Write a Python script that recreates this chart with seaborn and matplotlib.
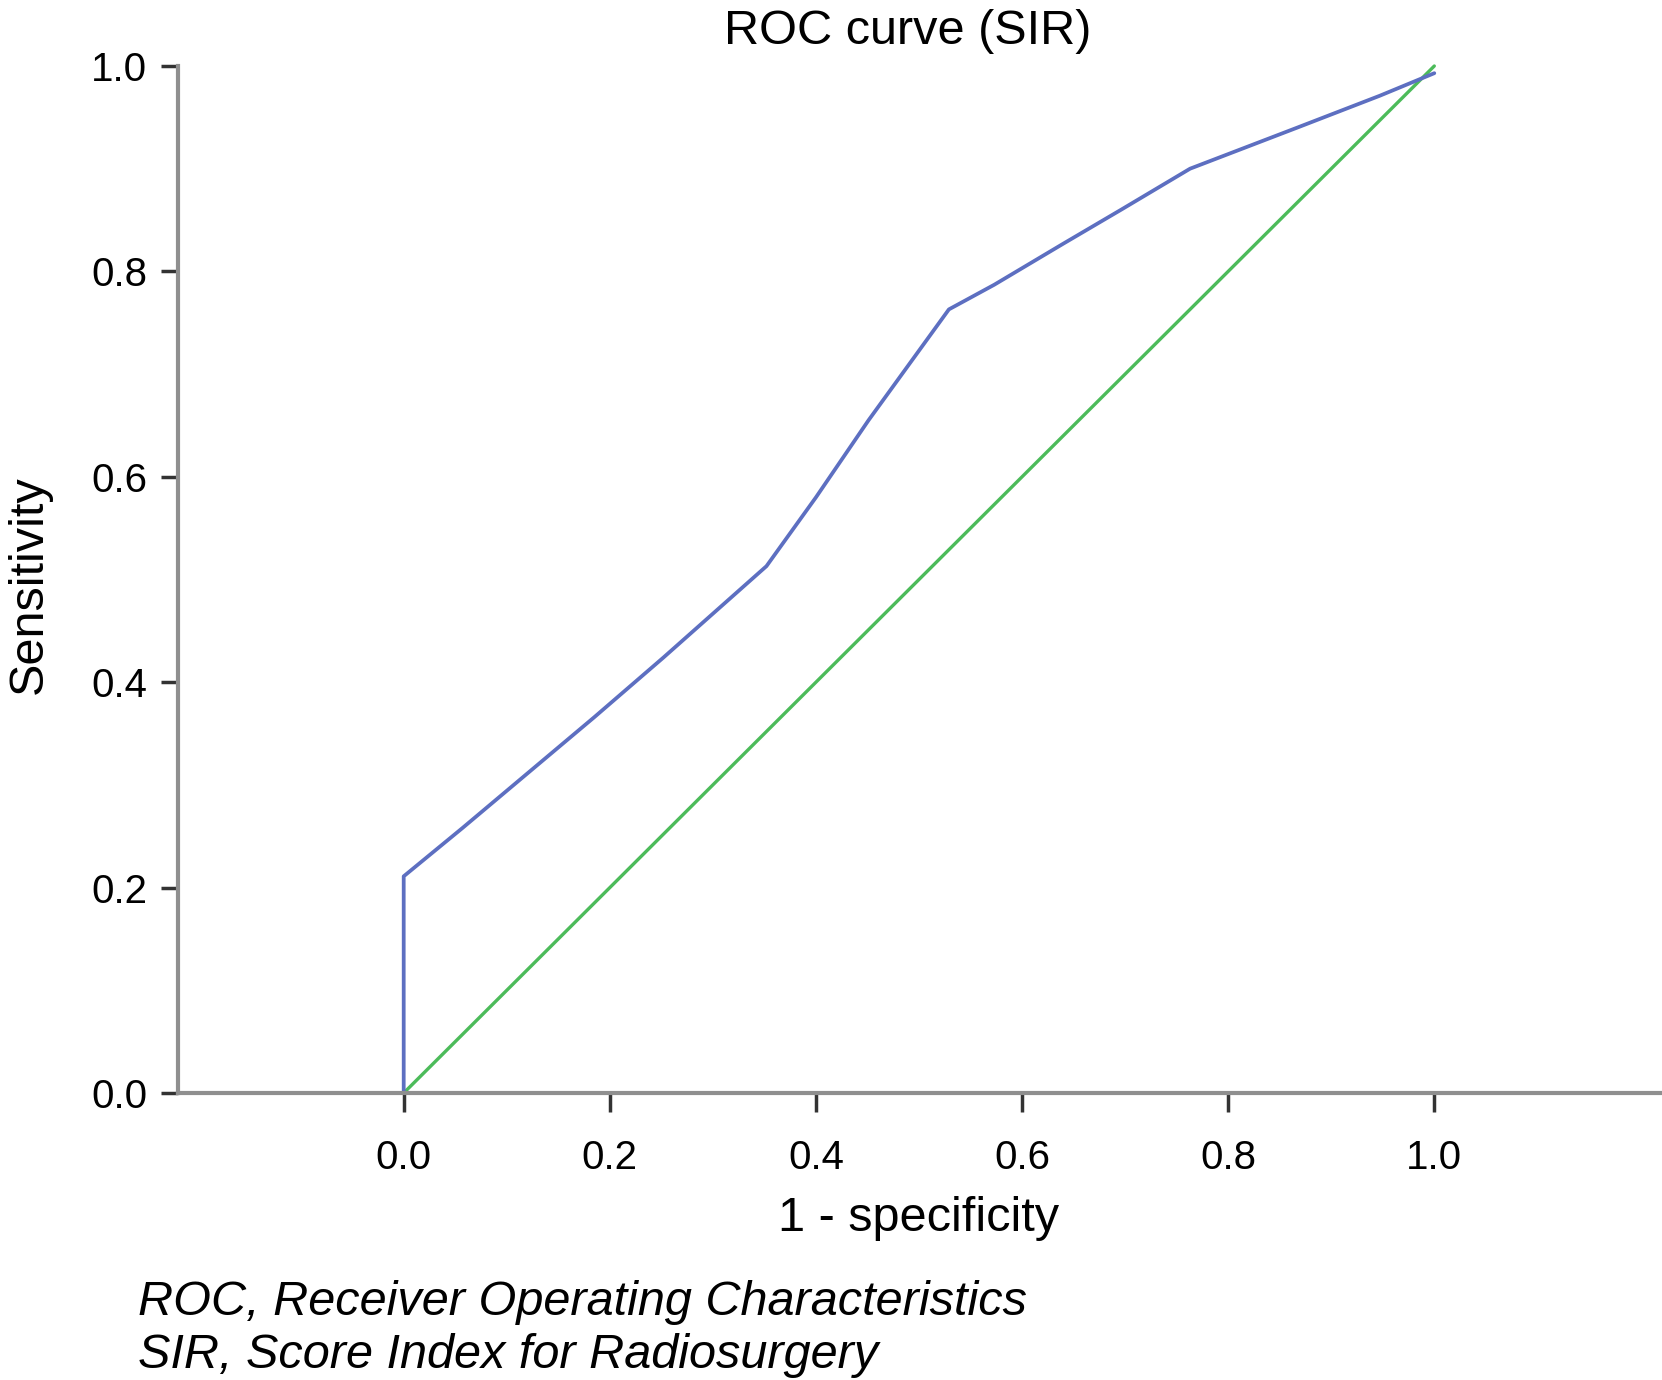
import matplotlib
matplotlib.use("Agg")
import matplotlib.pyplot as plt
import seaborn as sns
import pandas as pd

# ROC curve points
fpr = [0.0, 0.0, 0.057, 0.185, 0.252, 0.352, 0.40, 0.451, 0.529, 0.573, 0.640, 0.696, 0.763, 0.867, 0.947, 1.0]
tpr = [0.0, 0.211, 0.258, 0.366, 0.424, 0.513, 0.580, 0.655, 0.763, 0.787, 0.827, 0.860, 0.900, 0.940, 0.971, 0.993]
ref_x = [0.0, 1.0]
ref_y = [0.0, 1.0]
xticks = [0.0, 0.2, 0.4, 0.6, 0.8, 1.0]
yticks = [0.0, 0.2, 0.4, 0.6, 0.8, 1.0]

sns.set_style("ticks")
plt.rcParams['font.family'] = ['Liberation Sans', 'DejaVu Sans']
plt.rcParams['text.color'] = 'black'
plt.rcParams['axes.labelcolor'] = 'black'
plt.rcParams['xtick.color'] = 'black'
plt.rcParams['ytick.color'] = 'black'

fig = plt.figure(figsize=(16.62, 13.80), dpi=100)
ax = fig.add_axes([178/1662, 1 - 1093/1380, (1660-178)/1662, (1093-66)/1380])

df_roc = pd.DataFrame({"fpr": fpr, "tpr": tpr})
df_ref = pd.DataFrame({"x": ref_x, "y": ref_y})
sns.lineplot(data=df_ref, x="x", y="y", ax=ax, color="#4cbb5a", linewidth=2.4, clip_on=False)
sns.lineplot(data=df_roc, x="fpr", y="tpr", ax=ax, sort=False, estimator=None,
             color="#5d6fc1", linewidth=2.7, clip_on=False)

ax.set_xlim(-0.219, 1.219)
ax.set_ylim(0, 1)
ax.set_xticks(xticks)
ax.set_yticks(yticks)
ax.set_xticklabels([f"{t:.1f}" for t in xticks])
ax.set_yticklabels([f"{t:.1f}" for t in yticks])
sns.despine(ax=ax)
for s in ["left", "bottom"]:
    ax.spines[s].set_color("#8f8f8f")
    ax.spines[s].set_linewidth(3)
ax.tick_params(axis="x", direction="out", length=14, width=2.5, color="#333333", pad=19, labelsize=29)
ax.tick_params(axis="y", direction="out", length=12, width=2.5, color="#333333", pad=10, labelsize=29)

ax.set_xlabel("1 - specificity", fontsize=35)
ax.set_ylabel("Sensitivity", fontsize=35)
ax.xaxis.set_label_coords((919-178)/1482, -0.100)
ax.yaxis.set_label_coords((52-178)/1482, 0.495)
ax.set_title("ROC curve (SIR)", fontsize=35, pad=16, x=(908-178)/1482)

fig.text(138/1662, 1 - 1315/1380, "ROC, Receiver Operating Characteristics",
         fontsize=35, style="italic", va="baseline")
fig.text(138/1662, 1 - 1368/1380, "SIR, Score Index for Radiosurgery",
         fontsize=35, style="italic", va="baseline")

fig.savefig("out.png", dpi=100)
